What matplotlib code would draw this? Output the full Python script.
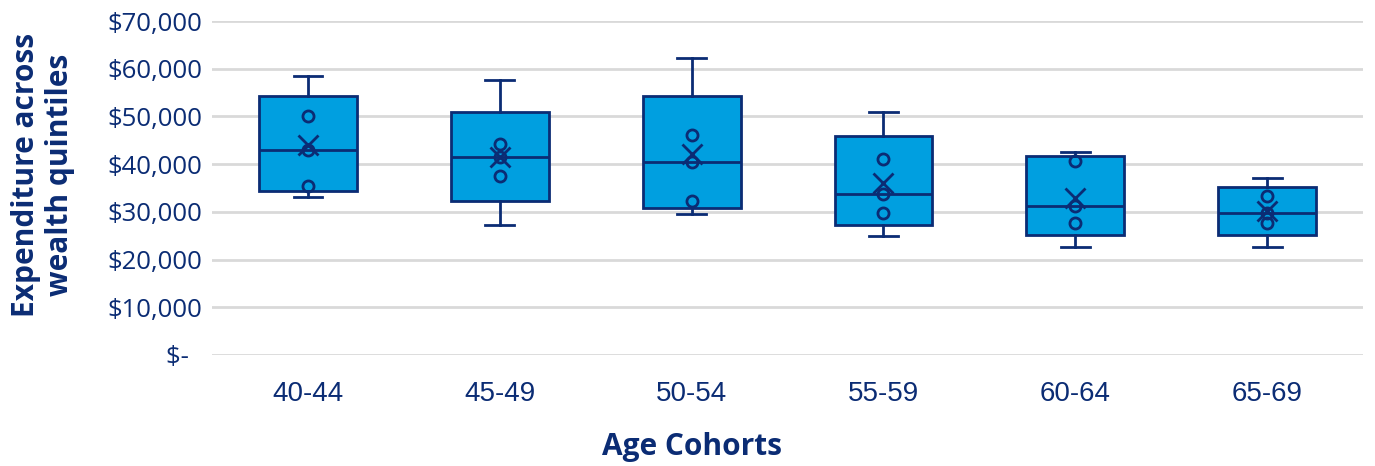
import numpy as np
import matplotlib.pyplot as plt
from matplotlib.ticker import FuncFormatter

# expenditure by wealth quintile, one value per age cohort
cohorts = ['40-44', '45-49', '50-54', '55-59', '60-64', '65-69']
q1 = [33100, 27200, 29600, 24900, 22700, 22600]
q2 = [35500, 37450, 32200, 29800, 27700, 27700]
q3 = [43000, 41400, 40500, 33800, 31200, 29700]
q4 = [50000, 44200, 46200, 41100, 40700, 33300]
q5 = [58400, 57600, 62200, 50900, 42600, 37200]

navy = '#0B2C74'
fill = '#009FE0'
grid = '#D9D9D9'

fig = plt.figure(figsize=(13.75, 4.66), dpi=100)
ax = fig.add_axes([0.1542, 0.2382, 0.8371, 0.7167])

stats = []
for i in range(len(cohorts)):
    vals = np.sort([q1[i], q2[i], q3[i], q4[i], q5[i]])
    # Excel box & whisker uses exclusive quartiles
    stats.append({
        'whislo': vals.min(),
        'q1': np.percentile(vals, 25, method='weibull'),
        'med': np.median(vals),
        'q3': np.percentile(vals, 75, method='weibull'),
        'whishi': vals.max(),
        'mean': vals.mean(),
        'fliers': [],
    })

pos = np.arange(len(cohorts))
ax.bxp(stats, positions=pos, widths=0.51, patch_artist=True, showmeans=True,
       boxprops=dict(facecolor=fill, edgecolor=navy, linewidth=2),
       medianprops=dict(color=navy, linewidth=2),
       whiskerprops=dict(color=navy, linewidth=2),
       capprops=dict(color=navy, linewidth=2),
       capwidths=0.15,
       meanprops=dict(marker='x', markeredgecolor=navy, markersize=14,
                      markeredgewidth=2),
       zorder=3)

# inner points
for i in range(len(cohorts)):
    inner = [q2[i], q3[i], q4[i]]
    ax.plot([pos[i]] * 3, inner, 'o', mfc='none', mec=navy, ms=8, mew=2,
            zorder=4)

ax.set_xlim(-0.5, len(cohorts) - 0.5)
ax.set_ylim(0, 70000)
ax.set_yticks(np.arange(0, 70001, 10000))
ax.yaxis.set_major_formatter(FuncFormatter(
    lambda v, p: '$-  ' if v == 0 else '${:,.0f}'.format(v)))
ax.yaxis.grid(True, color=grid, linewidth=2, zorder=0)
ax.set_axisbelow(True)
for s in ax.spines.values():
    s.set_visible(False)

ax.set_xticks(pos)
ax.set_xticklabels(cohorts, fontfamily='Liberation Sans', fontsize=20,
                   color=navy)
ax.tick_params(axis='x', length=0, pad=19)
ax.tick_params(axis='y', length=0, pad=7, labelcolor=navy)
for t in ax.get_yticklabels():
    t.set_fontfamily('Open Sans')
    t.set_fontsize(18.5)

fig.text(0.503, 1 - 447 / 466, 'Age Cohorts', ha='center', va='center',
         fontfamily='Open Sans', fontweight='bold', fontsize=21.5, color=navy)
fig.text(43 / 1375, 1 - 175 / 466, 'Expenditure across\nwealth quintiles',
         rotation=90, ha='center', va='center', multialignment='center',
         fontfamily='Open Sans', fontweight='bold', fontsize=21.5, color=navy,
         linespacing=1.2)

fig.savefig('out.png', dpi=100)
